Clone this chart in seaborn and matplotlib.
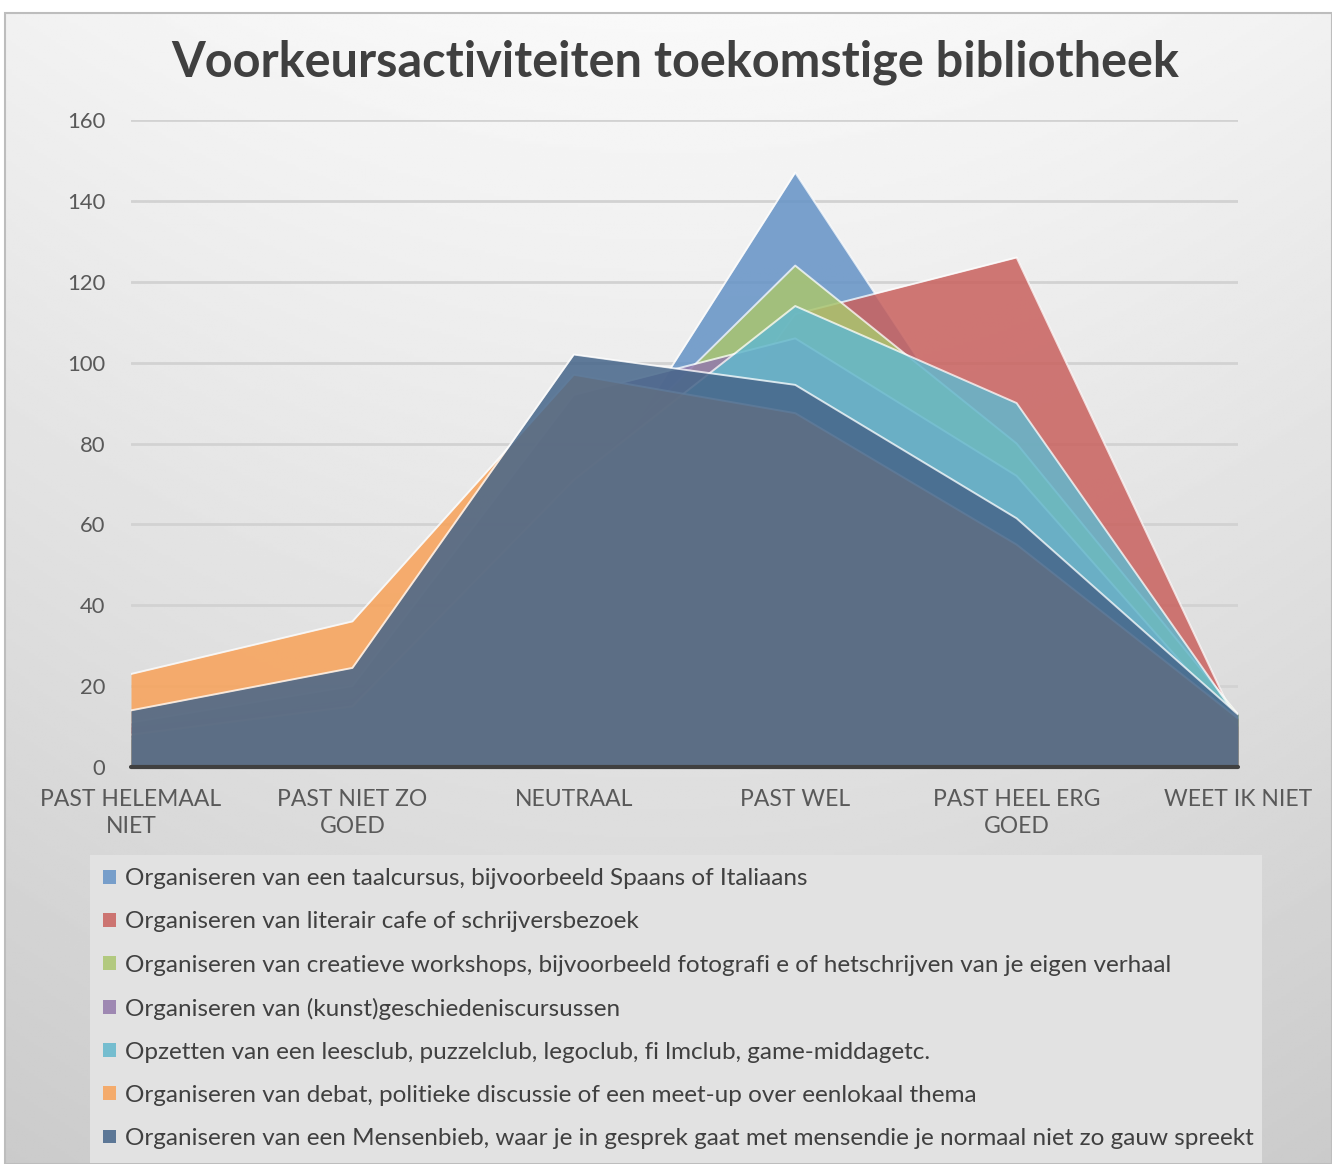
import numpy as np
import pandas as pd
import matplotlib
matplotlib.use("Agg")
import matplotlib.pyplot as plt
from matplotlib import font_manager
from matplotlib.patches import Patch, Rectangle
import seaborn as sns

# ---------------- data ----------------
categories = ["PAST HELEMAAL\nNIET", "PAST NIET ZO\nGOED", "NEUTRAAL", "PAST WEL",
              "PAST HEEL ERG\nGOED", "WEET IK NIET"]
series_names = [
    "Organiseren van een taalcursus, bijvoorbeeld Spaans of Italiaans",
    "Organiseren van literair cafe of schrijversbezoek",
    "Organiseren van creatieve workshops, bijvoorbeeld fotografi e of hetschrijven van je eigen verhaal",
    "Organiseren van (kunst)geschiedeniscursussen",
    "Opzetten van een leesclub, puzzelclub, legoclub, fi lmclub, game-middagetc.",
    "Organiseren van debat, politieke discussie of een meet-up over eenlokaal thema",
    "Organiseren van een Mensenbieb, waar je in gesprek gaat met mensendie je normaal niet zo gauw spreekt",
]
taalcursus = [9, 17, 61, 147, 64, 12]
literair = [10, 16, 36, 112, 126, 10]
creatief = [7, 15, 70, 124, 80, 13]
kunstgeschiedenis = [11, 20, 92, 106, 72, 10]
leesclub = [8, 15, 71, 114, 90, 12]
debat = [23, 36, 97, 87.5, 55, 12]
mensenbieb = [14, 24.5, 102, 94.5, 61.5, 13]
all_values = [taalcursus, literair, creatief, kunstgeschiedenis, leesclub, debat, mensenbieb]

colors = ["#6593C6", "#C9625F", "#AAC56F", "#9379AB", "#63B7CC", "#F8A259", "#46668A"]
ALPHA = 0.86

# ---------------- style ----------------
sns.set_theme(style="white")

def available(name):
    try:
        font_manager.findfont(font_manager.FontProperties(family=name), fallback_to_default=False)
        return True
    except Exception:
        return False

base_font = "Lato" if available("Lato") else "DejaVu Sans"
title_font = "Liberation Sans Narrow" if available("Liberation Sans Narrow") else base_font
plt.rcParams["font.family"] = [base_font, "DejaVu Sans"]

W, H = 1332, 1164
fig = plt.figure(figsize=(W / 100, H / 100), dpi=100)
fig.patch.set_facecolor("white")

# background gradient panel with border
bx0, by_top = 5, 13
bg = fig.add_axes([bx0 / W, 0, 1 - bx0 / W, 1 - by_top / H], zorder=-10)
yy = np.linspace(0, 1, 400)[:, None]
xx = np.linspace(-1, 1, 300)[None, :]
grad = 0.975 - 0.15 * yy - 0.03 * (xx ** 2)
bg.imshow(grad, aspect="auto", cmap="gray", vmin=0, vmax=1, extent=[0, 1, 0, 1], origin="upper")
bg.set_axis_off()
fig.add_artist(Rectangle((bx0 / W, 0), 1 - bx0 / W, 1 - by_top / H, transform=fig.transFigure,
                         fill=False, edgecolor="#BDBDBD", lw=1.5, zorder=-5))

# main axes
ax = fig.add_axes([131 / W, 1 - 767 / H, (1238 - 131) / W, (767 - 120) / H])
ax.set_facecolor("none")

pos = np.arange(len(categories))
rows = []
for name, vals in zip(series_names, all_values):
    for p, v in zip(pos, vals):
        rows.append({"series": name, "pos": p, "value": v})
df = pd.DataFrame(rows)

for i, (name, col) in enumerate(zip(series_names, colors)):
    sub = df[df["series"] == name]
    ax.fill_between(sub["pos"], 0, sub["value"], color=col, alpha=ALPHA, lw=0, zorder=3 + 2 * i)
    sns.lineplot(data=sub, x="pos", y="value", color="white", lw=1.4, alpha=0.75,
                 zorder=4 + 2 * i, ax=ax, legend=False)

ax.set_xlim(0, 5)
ax.set_ylim(0, 160)
ax.set_yticks(np.arange(0, 161, 20))
ax.set_xticks(pos)
ax.set_xticklabels(categories, linespacing=1.38)
ax.set_xlabel("")
ax.set_ylabel("")
ax.yaxis.grid(True, color="#D2D2D2", lw=2)
ax.xaxis.grid(False)
ax.set_axisbelow(True)
for s in ax.spines.values():
    s.set_visible(False)
ax.axhline(0, color="#404040", lw=3, zorder=30, clip_on=False)
ax.tick_params(axis="y", length=0, pad=18.5, labelsize=15.8, labelcolor="#595959")
ax.tick_params(axis="x", length=0, pad=15.5, labelsize=16.5, labelcolor="#595959")

# title, fitted to reference width
title = fig.text(675 / W, 1 - 62 / H, "Voorkeursactiviteiten toekomstige bibliotheek",
                 ha="center", va="center", fontsize=34, fontweight="bold", color="#404040",
                 family=[title_font, "DejaVu Sans"])
fig.canvas.draw()
r = fig.canvas.get_renderer()
w = title.get_window_extent(r).width
title.set_fontsize(34 * 1010 / w)

# legend
handles = [Patch(facecolor=c, alpha=ALPHA, edgecolor="none") for c in colors]
leg = fig.legend(handles, series_names, loc="upper left",
                 bbox_to_anchor=(90 / W, 1 / H, (1262 - 90) / W, (1163 - 855) / H),
                 mode="expand", frameon=True, fancybox=False, facecolor="#E2E2E2",
                 edgecolor="none", framealpha=1, fontsize=17.5, labelcolor="#404040",
                 handlelength=0.5, handleheight=0.5, handletextpad=0.4,
                 labelspacing=0.91, borderpad=0.55, borderaxespad=0)

fig.savefig("out.png", dpi=100)
